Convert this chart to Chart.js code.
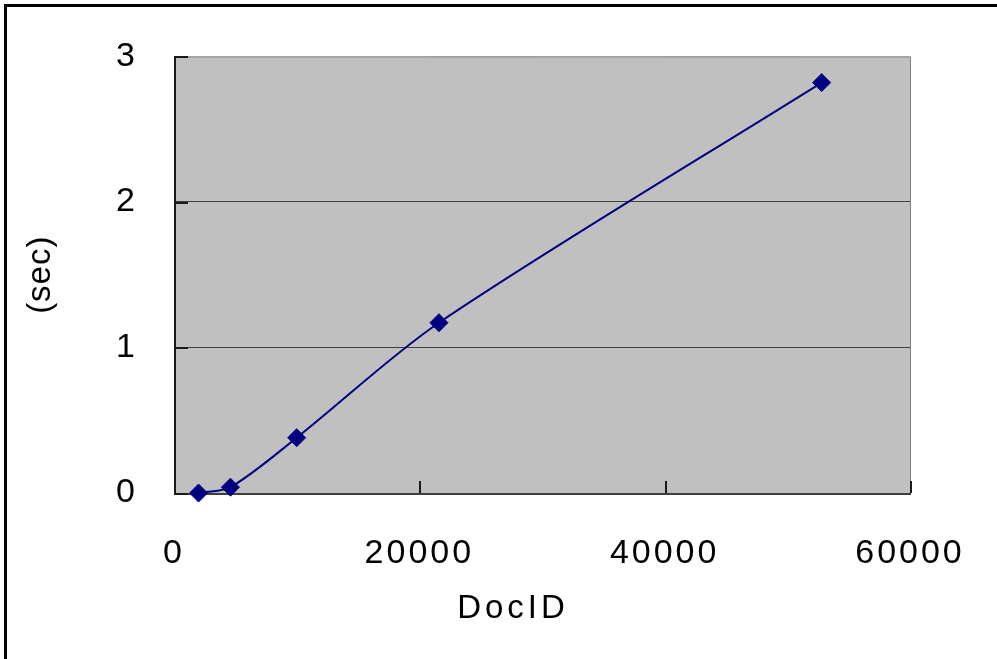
<!DOCTYPE html>
<html>
<head>
<meta charset="utf-8">
<script src="https://cdn.jsdelivr.net/npm/chart.js@4/dist/chart.umd.min.js"></script>
<style>
  html, body { margin: 0; padding: 0; background: #ffffff; }
  canvas { display: block; }
</style>
</head>
<body>
<canvas id="chart" width="997" height="659"></canvas>
<script>
// Time per document ID
const docIds  = [2000, 4600, 10000, 21600, 52800];
const seconds = [0.00, 0.04, 0.38, 1.17, 2.82];

const xTicks = [0, 20000, 40000, 60000];
const yTicks = [0, 1, 2, 3];

const xTitle = 'DocID';
const yTitle = '(sec)';

const FONT = '"Liberation Sans", Arial, sans-serif';
const PLOT_BG = '#c0c0c0';
const SERIES = '#000080';

// Page frame, plot background, axis titles and inner tick marks
const framePlugin = {
  id: 'frame',
  beforeDraw(chart) {
    const { ctx, chartArea: a } = chart;
    ctx.save();
    ctx.fillStyle = '#ffffff';
    ctx.fillRect(0, 0, chart.width, chart.height);
    ctx.fillStyle = '#000000';
    ctx.fillRect(4, 4, chart.width - 4, 3);
    ctx.fillRect(4, 4, 3, chart.height - 4);
    ctx.fillStyle = PLOT_BG;
    ctx.fillRect(a.left, a.top, a.right - a.left, a.bottom - a.top);
    ctx.restore();
    ctx.letterSpacing = '3px';
  },
  beforeDatasetsDraw(chart) {
    const { ctx, chartArea: a, scales } = chart;
    ctx.save();
    // top and right edges
    ctx.strokeStyle = '#808080';
    ctx.lineWidth = 1;
    ctx.beginPath();
    ctx.moveTo(a.left, a.top + 0.5);
    ctx.lineTo(a.right + 0.5, a.top + 0.5);
    ctx.lineTo(a.right + 0.5, a.bottom);
    ctx.stroke();
    // axis lines
    ctx.fillStyle = '#1a1a1a';
    ctx.fillRect(a.left, a.top, 2, a.bottom - a.top + 2);
    ctx.fillStyle = '#404040';
    ctx.fillRect(a.left, a.bottom, a.right - a.left + 1, 2);
    // inward tick marks
    ctx.fillStyle = '#1a1a1a';
    yTicks.forEach(v => {
      const y = Math.round(scales.y.getPixelForValue(v));
      ctx.fillRect(a.left, y, 14, 2);
    });
    xTicks.forEach(v => {
      const x = Math.round(scales.x.getPixelForValue(v));
      ctx.fillRect(x, a.bottom - 12, 2, 12);
    });
    ctx.restore();
  },
  afterDraw(chart) {
    const { ctx, chartArea: a } = chart;
    ctx.save();
    ctx.fillStyle = '#000000';
    ctx.font = '33px ' + FONT;
    ctx.textAlign = 'center';
    ctx.textBaseline = 'middle';
    ctx.letterSpacing = '4px';
    ctx.fillText(xTitle, 513, 609);
    ctx.letterSpacing = '1px';
    ctx.translate(41, (a.top + a.bottom) / 2);
    ctx.rotate(-Math.PI / 2);
    ctx.fillText(yTitle, 0, 0);
    ctx.restore();
  }
};

new Chart(document.getElementById('chart'), {
  type: 'scatter',
  data: {
    datasets: [{
      data: docIds.map((x, i) => ({ x, y: seconds[i] })),
      showLine: true,
      tension: 0.3,
      borderColor: SERIES,
      borderWidth: 2,
      backgroundColor: SERIES,
      pointStyle: 'rectRot',
      pointRadius: 9,
      pointHoverRadius: 9,
      pointBorderWidth: 1,
      pointBorderColor: SERIES,
      pointBackgroundColor: SERIES,
      clip: false
    }]
  },
  options: {
    responsive: false,
    animation: false,
    events: [],
    layout: { padding: { left: 0, top: 55, right: 87, bottom: 0 } },
    plugins: { legend: { display: false }, tooltip: { enabled: false } },
    scales: {
      x: {
        type: 'linear',
        min: 0,
        max: 60000,
        afterBuildTicks(scale) { scale.ticks = xTicks.map(v => ({ value: v })); },
        afterFit(scale) { scale.height = 166; },
        grid: { display: false },
        border: { display: false },
        ticks: {
          color: '#000000',
          font: { family: FONT, size: 34 },
          padding: 32,
          maxRotation: 0,
          callback: v => String(v)
        }
      },
      y: {
        min: 0,
        max: 3,
        afterBuildTicks(scale) { scale.ticks = yTicks.map(v => ({ value: v })); },
        afterFit(scale) { scale.width = 174; },
        grid: {
          drawTicks: false,
          lineWidth: 1,
          color: c => (c.tick && (c.tick.value === 1 || c.tick.value === 2)) ? '#404040' : 'rgba(0,0,0,0)'
        },
        border: { display: false },
        ticks: {
          color: '#000000',
          font: { family: FONT, size: 34 },
          padding: 36,
          callback: v => String(v)
        }
      }
    }
  },
  plugins: [framePlugin]
});
</script>
</body>
</html>
